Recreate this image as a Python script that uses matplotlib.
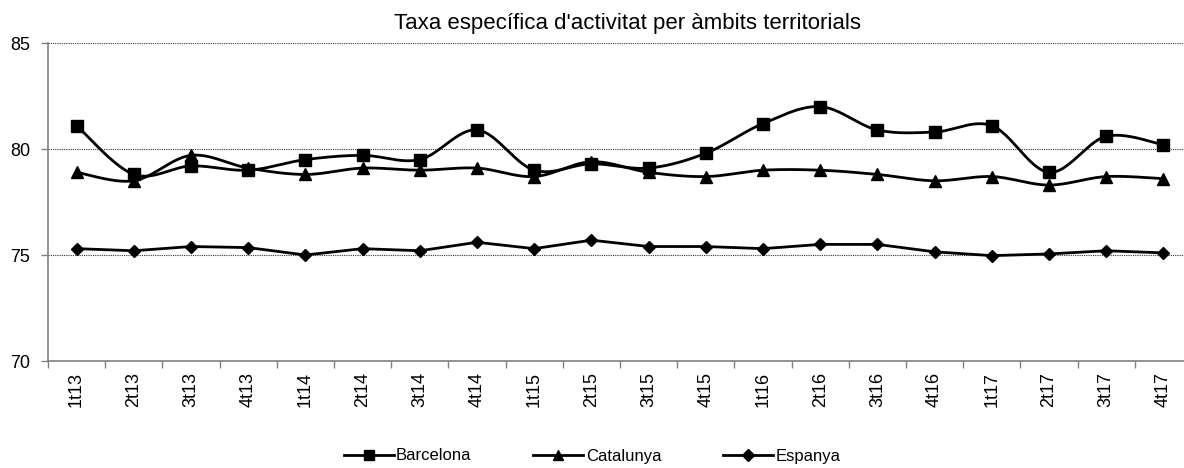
import numpy as np
import matplotlib
matplotlib.use("Agg")
import matplotlib.pyplot as plt
from matplotlib.lines import Line2D

plt.rcParams['font.family'] = ['Liberation Sans', 'DejaVu Sans']

quarters = ['1t13', '2t13', '3t13', '4t13', '1t14', '2t14', '3t14', '4t14',
            '1t15', '2t15', '3t15', '4t15', '1t16', '2t16', '3t16', '4t16',
            '1t17', '2t17', '3t17', '4t17']
barcelona = [81.1, 78.8, 79.2, 79.0, 79.5, 79.7, 79.5, 80.9, 79.0, 79.3,
             79.1, 79.8, 81.2, 82.0, 80.9, 80.8, 81.1, 78.9, 80.6, 80.2]
catalunya = [78.9, 78.5, 79.7, 79.1, 78.8, 79.1, 79.0, 79.1, 78.7, 79.4,
             78.9, 78.7, 79.0, 79.0, 78.8, 78.5, 78.7, 78.3, 78.7, 78.6]
espanya = [75.3, 75.2, 75.4, 75.35, 75.0, 75.3, 75.2, 75.6, 75.3, 75.7,
           75.4, 75.4, 75.3, 75.5, 75.5, 75.15, 74.97, 75.05, 75.2, 75.1]


def smooth(x, y, n=30):
    # Catmull-Rom style curve through the points (like Excel's smoothed lines)
    x = np.asarray(x, float)
    y = np.asarray(y, float)
    px = np.concatenate([[x[0]], x, [x[-1]]])
    py = np.concatenate([[y[0]], y, [y[-1]]])
    xs, ys = [], []
    t = np.linspace(0, 1, n)
    for i in range(1, len(px) - 2):
        p0 = np.array([px[i], py[i]])
        p3 = np.array([px[i + 1], py[i + 1]])
        c1 = p0 + (np.array([px[i + 1], py[i + 1]]) - np.array([px[i - 1], py[i - 1]])) / 6
        c2 = p3 - (np.array([px[i + 2], py[i + 2]]) - np.array([px[i], py[i]])) / 6
        b = ((1 - t) ** 3)[:, None] * p0 + (3 * (1 - t) ** 2 * t)[:, None] * c1 \
            + (3 * (1 - t) * t ** 2)[:, None] * c2 + (t ** 3)[:, None] * p3
        xs.extend(b[:, 0])
        ys.extend(b[:, 1])
    return xs, ys


fig = plt.figure(figsize=(11.84, 4.68), dpi=100)
ax = fig.add_axes([48 / 1184, 1 - 361 / 468, (1192 - 48) / 1184, 318 / 468])

x = np.arange(len(quarters))
lw = 2.0

sx, sy = smooth(x, barcelona)
ax.plot(sx, sy, color='black', lw=lw, zorder=3)
ax.plot(x, barcelona, ls='none', marker='s', ms=8, color='black', zorder=4)

sx, sy = smooth(x, catalunya)
ax.plot(sx, sy, color='black', lw=lw, zorder=3)
ax.plot(x, catalunya, ls='none', marker='^', ms=8, color='black', zorder=4)

ax.plot(x, espanya, color='black', lw=lw, marker='D', ms=6.5, zorder=3)

ax.set_xlim(-0.5, len(quarters) - 0.5)
ax.set_ylim(70, 85)
ax.set_yticks([70, 75, 80, 85])
ax.yaxis.grid(True, color='#333333', ls=(0, (1, 1)), lw=0.8)
ax.set_axisbelow(True)

ax.set_xticks(x)
ax.set_xticklabels(quarters, rotation=90, fontsize=13)
ax.tick_params(axis='x', length=0, pad=8)
ax.set_xticks(np.arange(-0.5, len(quarters), 1), minor=True)
ax.tick_params(axis='x', which='minor', length=5, color='#808080', width=1)
ax.tick_params(axis='y', length=5, color='#808080', width=1, labelsize=13, pad=8)

for s in ['top', 'right']:
    ax.spines[s].set_visible(False)
for s in ['left', 'bottom']:
    ax.spines[s].set_color('#808080')
    ax.spines[s].set_linewidth(1.2)

fig.text(627 / 1184, 1 - 29 / 468, "Taxa específica d'activitat per àmbits territorials",
         ha='center', va='baseline', fontsize=16)

handles = [Line2D([], [], color='black', lw=lw, marker='s', ms=7),
           Line2D([], [], color='black', lw=lw, marker='^', ms=7),
           Line2D([], [], color='black', lw=lw, marker='D', ms=6)]
fig.legend(handles, ['Barcelona', 'Catalunya', 'Espanya'], loc='center',
           bbox_to_anchor=(0.5, 1 - 456 / 468), ncol=3, frameon=False,
           fontsize=12, handlelength=3.0, handletextpad=0.15, columnspacing=3.7)

fig.savefig('out.png', dpi=100)
